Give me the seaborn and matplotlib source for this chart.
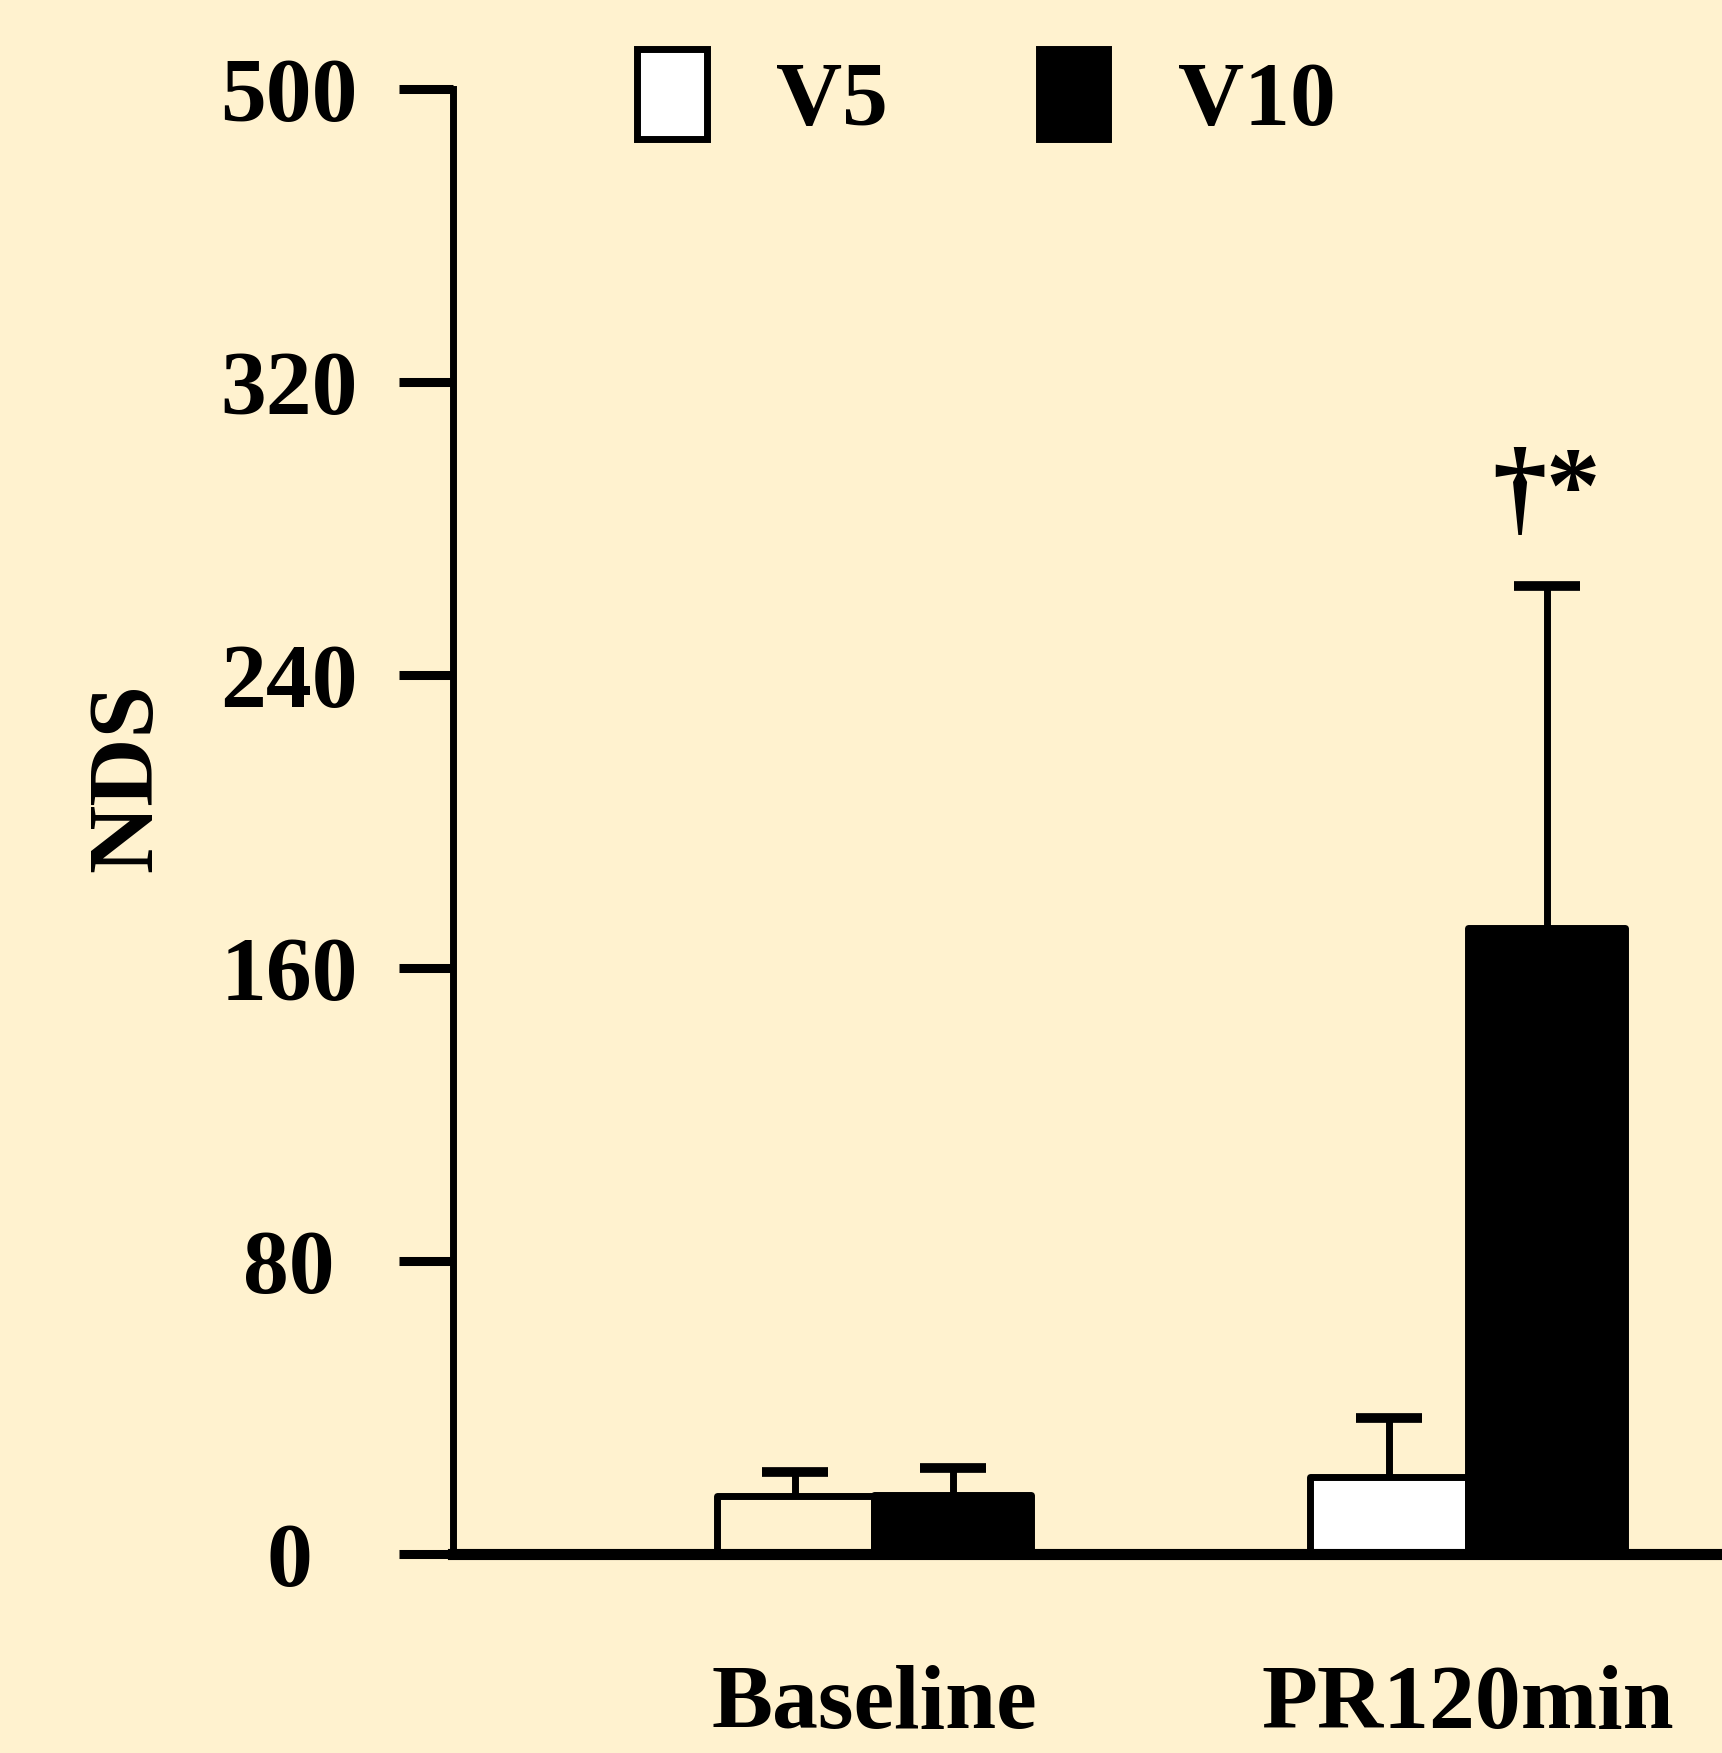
import numpy as np
import pandas as pd
import matplotlib
matplotlib.use("Agg")
import matplotlib.pyplot as plt
from matplotlib.patches import Patch
import seaborn as sns

# ---- data ----
categories = ["Baseline", "PR120min"]
groups = ["V5", "V10"]
v5_mean = [15.8, 21.0]
v5_err = [6.6, 16.1]
v10_mean = [16.1, 170.9]
v10_err = [7.4, 93.4]
ytick_pos = [0, 80, 160, 240, 320, 400]
ytick_labels = ["0", "80", "160", "240", "320", "500"]
ylabel = "NDS"
annotation = "\u2020*"

# ---- style ----
BG = "#FFF2CF"
sns.set_style("ticks")
plt.rcParams["font.family"] = ["Liberation Serif", "DejaVu Serif"]
plt.rcParams["font.weight"] = "bold"
plt.rcParams["text.color"] = "black"
plt.rcParams["axes.labelcolor"] = "black"
plt.rcParams["xtick.color"] = "black"
plt.rcParams["ytick.color"] = "black"

df = pd.DataFrame({
    "time": categories * 2,
    "group": ["V5"] * 2 + ["V10"] * 2,
    "NDS": v5_mean + v10_mean,
    "err": v5_err + v10_err,
})

fig = plt.figure(figsize=(17.22, 17.53), dpi=100, facecolor=BG)
ax = fig.add_axes([0.2631, 0.1135, 0.7369, 0.8357])
ax.set_facecolor(BG)

sns.barplot(data=df, x="time", y="NDS", hue="group", order=categories,
            hue_order=groups, palette={"V5": "white", "V10": "black"},
            edgecolor="black", linewidth=5, width=0.53, errorbar=None,
            legend=False, saturation=1, ax=ax)

# V5 baseline bar is unfilled (background shows through)
fill_v5 = {"Baseline": BG, "PR120min": "white"}
for g, cont in zip(groups, ax.containers):
    sub = df[df.group == g].set_index("time").loc[categories]
    xs = [p.get_x() + p.get_width() / 2 for p in cont.patches]
    for p, c in zip(cont.patches, categories):
        p.set_linewidth(5)
        p.set_edgecolor("black")
        p.set_joinstyle("round")
        if g == "V5":
            p.set_facecolor(fill_v5[c])
    eb = ax.errorbar(xs, sub["NDS"].values,
                     yerr=[np.zeros(len(xs)), sub["err"].values],
                     fmt="none", ecolor="black", elinewidth=5, capsize=24,
                     capthick=7, zorder=5)
    # keep only the upper caps
    caps = eb[1]
    if len(caps) == 2:
        caps[0].set_visible(False)
    for cl in caps:
        cl.set_solid_capstyle("round")
    if g == "V10":
        i = categories.index("PR120min")
        top = sub["NDS"].values[i] + sub["err"].values[i]
        ax.text(xs[i], top + 38, annotation, ha="center", va="top",
                fontsize=78, fontweight="bold", color="black", zorder=6)

ax.set_xlim(-0.709, 1.428)
ax.set_ylim(0, 400)
ax.set_yticks(ytick_pos)
ax.set_yticklabels(ytick_labels)
ax.set_xlabel("")
ax.set_ylabel(ylabel, fontsize=68, fontweight="bold", color="black")
ax.yaxis.set_label_coords(-0.222, 0.530)

for s in ["top", "right"]:
    ax.spines[s].set_visible(False)
ax.spines["left"].set_linewidth(5)
ax.spines["bottom"].set_linewidth(8)
ax.spines["left"].set_color("black")
ax.spines["bottom"].set_color("black")

ax.tick_params(axis="y", direction="out", length=39, width=6.5,
               pad=79, labelsize=66, colors="black")
ax.tick_params(axis="x", length=0, pad=80, labelsize=66, colors="black")
for lab in ax.get_yticklabels():
    lab.set_ha("center")
    lab.set_fontweight("bold")
    lab.set_color("black")
for lab in ax.get_xticklabels():
    lab.set_fontweight("bold")
    lab.set_color("black")
for ln in ax.yaxis.get_ticklines():
    ln.set_solid_capstyle("round")

handles = [Patch(facecolor="white", edgecolor="black", linewidth=5, label="V5"),
           Patch(facecolor="black", edgecolor="black", linewidth=5, label="V10")]
leg = fig.legend(handles=handles, loc="upper left",
                 bbox_to_anchor=(637 / 1722, 1 - 49 / 1753), ncol=2,
                 frameon=False, borderpad=0, borderaxespad=0,
                 handlelength=0.76, handleheight=1.13, handletextpad=0.76,
                 columnspacing=1.64, prop={"size": 66, "weight": "bold"},
                 labelcolor="black")

fig.savefig("out.png", dpi=100, facecolor=BG)
